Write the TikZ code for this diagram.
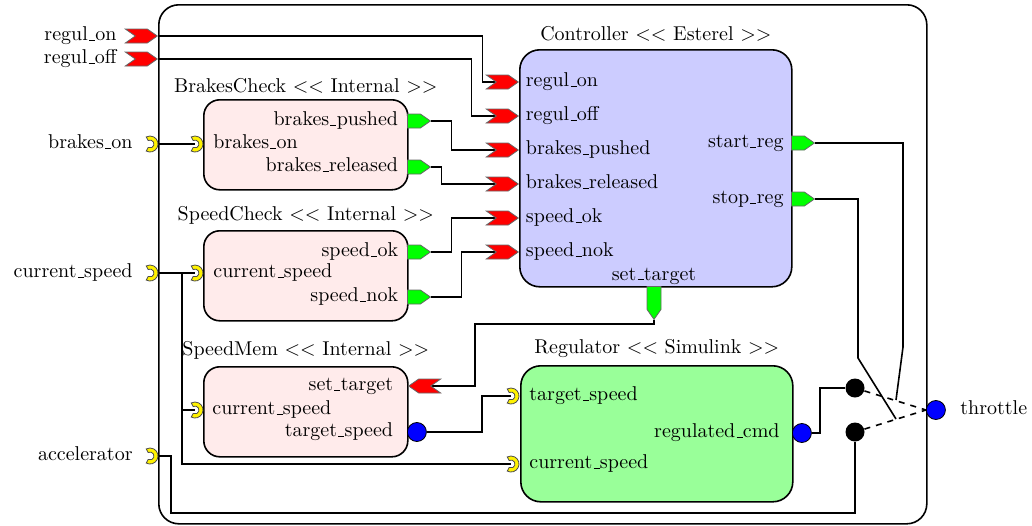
\documentclass[tikz,border=0pt]{standalone}
\usetikzlibrary{shapes.symbols,calc,backgrounds}
% low rule underscore, as in classic LaTeX text fonts
\newcommand\usc{\leavevmode\kern.06em\vbox{\hrule width.3em}\kern.02em}
\begin{document}
\begin{tikzpicture}[x=0.5pt,y=-0.5pt,
  box/.style={draw, line width=0.8pt, anchor=north west, inner sep=0},
  lbl/.style={inner sep=0, text height=1.5ex, text depth=0.5ex},
  ttl/.style={inner sep=0, anchor=base},
  chev/.style={signal, signal from=west, signal to=east, signal pointer angle=70,
    minimum width=16pt, minimum height=7pt, inner sep=0, fill=red, draw=black!60, line width=0.4pt},
  chevl/.style={chev, signal from=east, signal to=west},
  gport/.style={signal, signal to=east, signal pointer angle=70,
    minimum width=11.5pt, minimum height=7pt, inner sep=0, fill=green, draw=black!60, line width=0.4pt},
  gdown/.style={gport, signal to=south, minimum width=7pt, minimum height=11.5pt},
  bport/.style={circle, minimum size=9.5pt, inner sep=0, fill=blue, draw=black, line width=0.4pt},
  dot/.style={circle, minimum size=9.5pt, inner sep=0, fill=black},
  conn/.style={line width=0.8pt},
  cup/.pic={
    \path[fill=yellow, draw=black!70, line width=0.4pt]
      (118:8) arc[start angle=118, end angle=-118, radius=8]
      -- (-118:4) arc[start angle=-118, end angle=118, radius=4] -- cycle;
    \coordinate (-c) at (0,0);
    \coordinate (-e) at (8,0);
  }]
\useasboundingbox (0,0) rectangle (1032,525);

% enclosing system
\node[box, rounded corners=10pt, minimum width=384pt, minimum height=259.5pt] (sys) at (158,4) {};

% components
\node[box, rounded corners=8pt, fill=red!8, minimum width=102pt, minimum height=45pt] (bc) at (203,99) {};
\node[box, rounded corners=8pt, fill=red!8, minimum width=102pt, minimum height=45pt] (sc) at (203,230) {};
\node[box, rounded corners=8pt, fill=red!8, minimum width=102pt, minimum height=45pt] (sm) at (203,366) {};
\node[box, rounded corners=10pt, fill=blue!20, minimum width=136pt, minimum height=118.5pt] (ctrl) at (519,49) {};
\node[box, rounded corners=10pt, fill=green!40, minimum width=136pt, minimum height=68pt] (reg) at (520,365) {};

\node[ttl] at ($(bc.north)+(0,-7)$) {BrakesCheck $<<$ Internal $>>$};
\node[ttl] at ($(sc.north)+(0,-10)$) {SpeedCheck $<<$ Internal $>>$};
\node[ttl] at ($(sm.north)+(0,-11)$) {SpeedMem $<<$ Internal $>>$};
\node[ttl] at ($(ctrl.north)+(0,-9)$) {Controller $<<$ Esterel $>>$};
\node[ttl] at ($(reg.north)+(0,-12)$) {Regulator $<<$ Simulink $>>$};

% system inputs
\node[chev, anchor=east] (in_ron) at (158,36) {};
\node[chev, anchor=east] (in_roff) at (158,59) {};
\pic (in_brk) at (150,144) {cup};
\pic (in_spd) at (150,273) {cup};
\pic (in_acc) at (150,456) {cup};
\node[lbl, anchor=east] at (117,36) {regul\usc on};
\node[lbl, anchor=east] at (117,59) {regul\usc off};
\node[lbl, anchor=east] at (133,144) {brakes\usc on};
\node[lbl, anchor=east] at (133,273) {current\usc speed};
\node[lbl, anchor=east] at (133,456) {accelerator};

% BrakesCheck ports
\pic (bc_in) at (195,144) {cup};
\node[gport, anchor=west] (bc_push) at (407,121) {};
\node[gport, anchor=west] (bc_rel) at (407,167) {};
\node[lbl, anchor=east] at (398.5,121) {brakes\usc pushed};
\node[lbl, anchor=west] at (213,144) {brakes\usc on};
\node[lbl, anchor=east] at (398.5,167) {brakes\usc released};

% SpeedCheck ports
\pic (sc_in) at (195,273) {cup};
\node[gport, anchor=west] (sc_ok) at (407,252) {};
\node[gport, anchor=west] (sc_nok) at (407,297) {};
\node[lbl, anchor=east] at (398.5,252) {speed\usc ok};
\node[lbl, anchor=west] at (213,273) {current\usc speed};
\node[lbl, anchor=east] at (398.5,297) {speed\usc nok};

% SpeedMem ports
\node[chevl, anchor=west] (sm_set) at (408,386) {};
\pic (sm_in) at (195,410) {cup};
\node[bport, anchor=west] (sm_tgt) at (407,432) {};
\node[lbl, anchor=east] at (393.5,386) {set\usc target};
\node[lbl, anchor=west] at (212,410) {current\usc speed};
\node[lbl, anchor=east] at (393.5,432) {target\usc speed};

% Controller ports
\node[chev, anchor=east] (c_ron) at (519,82) {};
\node[chev, anchor=east] (c_roff) at (519,116) {};
\node[chev, anchor=east] (c_bp) at (519,150) {};
\node[chev, anchor=east] (c_br) at (519,184) {};
\node[chev, anchor=east] (c_ok) at (519,218) {};
\node[chev, anchor=east] (c_nok) at (519,252) {};
\node[gport, anchor=west] (c_start) at (791,143) {};
\node[gport, anchor=west] (c_stop) at (791,199) {};
\node[gdown, anchor=north] (c_set) at (654,286) {};
\node[lbl, anchor=west] at (525.5,82) {regul\usc on};
\node[lbl, anchor=west] at (525.5,116) {regul\usc off};
\node[lbl, anchor=west] at (525.5,150) {brakes\usc pushed};
\node[lbl, anchor=west] at (525.5,184) {brakes\usc released};
\node[lbl, anchor=west] at (525.5,218) {speed\usc ok};
\node[lbl, anchor=west] at (525.5,252) {speed\usc nok};
\node[lbl, anchor=east] at (784,143) {start\usc reg};
\node[lbl, anchor=east] at (784,199) {stop\usc reg};
\node[lbl, anchor=south] at (654,285) {set\usc target};

% Regulator ports
\pic (reg_tgt) at (511,396) {cup};
\pic (reg_cs) at (511,464) {cup};
\node[bport, anchor=west] (reg_cmd) at (792,433) {};
\node[lbl, anchor=west] at (529,396) {target\usc speed};
\node[lbl, anchor=west] at (529,464) {current\usc speed};
\node[lbl, anchor=east] at (780,433) {regulated\usc cmd};

% switch and output
\node[dot] (dot1) at (855,388) {};
\node[dot] (dot2) at (855,432) {};
\node[bport, anchor=west] (thr) at (926,410) {};
\node[lbl, anchor=west] at (960,410) {throttle};

\coordinate (jcs) at (182,273);
\coordinate (acc) at (171,513);
\coordinate (st) at (475,324);
\coordinate (sa1) at (903,347);
\coordinate (sa2) at (896,400);
\coordinate (sb1) at (858,358);
\coordinate (sb2) at (896,419);

\begin{scope}[on background layer={conn}]
  \draw (in_ron.east) -| ($(c_ron.west)+(-13,0)$) -- (c_ron.west);
  \draw (in_roff.east) -| ($(c_roff.west)+(-24,0)$) -- (c_roff.west);
  \draw (bc_push.east) -| ($(c_bp.west)+(-44,0)$) -- (c_bp.west);
  \draw (bc_rel.east) -| ($(c_br.west)+(-54,0)$) -- (c_br.west);
  \draw (sc_ok.east) -| ($(c_ok.west)+(-44,0)$) -- (c_ok.west);
  \draw (sc_nok.east) -| ($(c_nok.west)+(-34,0)$) -- (c_nok.west);
  \draw (in_brk-e) -- (bc_in-c);
  \draw (in_spd-e) -- (sc_in-c);
  \draw (jcs) |- (sm_in-c);
  \draw (jcs) |- (reg_cs-c);
  \draw (in_acc-e) -| (acc) -| (dot2.south);
  \draw (c_set.south) |- (st) |- (sm_set.east);
  \draw (sm_tgt.east) -| ($(reg_tgt-c)+(-29,0)$) -- (reg_tgt-c);
  \draw (reg_cmd.east) -| ($(dot1.west)+(-25,0)$) -- (dot1.west);
  \draw (c_start.east) -| (sa1) -- (sa2);
  \draw (c_stop.east) -| (sb1) -- (sb2);
  \draw[dashed] (dot1) -- (thr.west);
  \draw[dashed] (dot2) -- (thr.west);
\end{scope}
\end{tikzpicture}
\end{document}
